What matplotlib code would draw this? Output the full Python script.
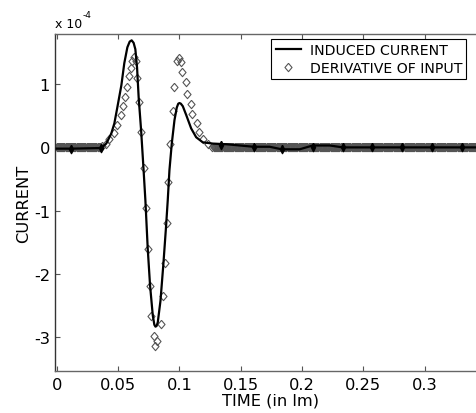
import numpy as np
import matplotlib
matplotlib.use('Agg')
import matplotlib.pyplot as plt

# Datos (corriente en unidades de 1e-4)
t_induced = [0.0, 0.0118, 0.0361, 0.0404, 0.0445, 0.0470, 0.0494, 0.0527, 0.0551,
             0.0576, 0.0595, 0.0611, 0.0627, 0.0641, 0.0655, 0.0668, 0.0688, 0.0707,
             0.0723, 0.0742, 0.0761, 0.0783, 0.0796, 0.0805, 0.0814, 0.0824, 0.0846,
             0.0870, 0.0892, 0.0905, 0.0919, 0.0938, 0.0960, 0.0979, 0.0991, 0.1001,
             0.1012, 0.1028, 0.1056, 0.1096, 0.1137, 0.1191, 0.1273, 0.1382, 0.1605,
             0.1736, 0.1834, 0.1981, 0.2087, 0.2226, 0.2332, 0.2569, 0.3500]
i_induced = [-0.02, -0.02, -0.01, 0.06, 0.22, 0.38, 0.63, 0.98, 1.33,
             1.58, 1.67, 1.69, 1.65, 1.55, 1.26, 0.79, 0.27, -0.32,
             -0.84, -1.60, -2.18, -2.65, -2.80, -2.83, -2.82, -2.76, -2.42,
             -1.83, -1.23, -0.84, -0.36, 0.06, 0.43, 0.63, 0.69, 0.70,
             0.69, 0.65, 0.51, 0.30, 0.16, 0.08, 0.06, 0.05, 0.01,
             0.01, -0.03, -0.03, 0.03, 0.03, 0.0, 0.0, 0.0]

# puntos negros sobre la linea (zonas planas)
t_dots = [0.0118, 0.0361, 0.1343, 0.1605, 0.1834, 0.2087, 0.2332, 0.2569, 0.2813,
          0.3058, 0.3303]
i_dots = [-0.02, -0.01, 0.03, 0.01, -0.03, 0.0, 0.0, 0.0, 0.0, 0.0, 0.0]

# derivada de la entrada: pulso
t_deriv = [0.0372, 0.0404, 0.0429, 0.0470, 0.0494, 0.0527, 0.0543, 0.0560, 0.0576,
           0.0592, 0.0609, 0.0617, 0.0633, 0.0650, 0.0658, 0.0674, 0.0690, 0.0715,
           0.0731, 0.0748, 0.0761, 0.0770, 0.0797, 0.0805, 0.0815, 0.0851, 0.0865,
           0.0886, 0.0903, 0.0911, 0.0927, 0.0944, 0.0960, 0.0984, 0.1001, 0.1017,
           0.1025, 0.1050, 0.1066, 0.1091, 0.1107, 0.1140, 0.1164, 0.1189, 0.1230]
d_deriv = [0.02, 0.06, 0.13, 0.22, 0.35, 0.51, 0.65, 0.79, 0.95,
           1.12, 1.26, 1.37, 1.42, 1.36, 1.09, 0.71, 0.24, -0.33,
           -0.96, -1.61, -2.19, -2.66, -2.98, -3.13, -3.05, -2.79, -2.34,
           -1.83, -1.20, -0.55, 0.05, 0.57, 0.95, 1.37, 1.41, 1.35,
           1.19, 1.03, 0.85, 0.69, 0.53, 0.38, 0.24, 0.14, 0.06]

# derivada: tramos planos muestreados densamente (valor cero)
t_flat_a = np.arange(0.0, 0.036, 0.0009)
t_flat_b = np.arange(0.1270, 0.352, 0.0009)
d_flat_a = np.zeros_like(t_flat_a)
d_flat_b = np.zeros_like(t_flat_b)

x_ticks = [0, 0.05, 0.1, 0.15, 0.2, 0.25, 0.3]
x_labels = ['0', '0.05', '0.1', '0.15', '0.2', '0.25', '0.3']
y_ticks = [-3, -2, -1, 0, 1]
y_labels = ['-3', '-2', '-1', '0', '1']

W, H = 477, 414
fig = plt.figure(figsize=(W / 100, H / 100), dpi=100, facecolor='white')
ax = fig.add_axes([55.5 / W, (H - 372) / H, (486 - 55.5) / W, (372 - 35) / H])

diamond = [(0, 1), (0.85, 0), (0, -1), (-0.85, 0), (0, 1)]
thin_dia = [(0, 1), (0.5, 0), (0, -1), (-0.5, 0), (0, 1)]
gris = '#555555'

t_all = np.concatenate([t_flat_a, t_deriv, t_flat_b])
d_all = np.concatenate([d_flat_a, d_deriv, d_flat_b])
ax.plot(t_all, d_all, linestyle='none', marker=diamond, markersize=6,
        markerfacecolor='none', markeredgecolor=gris, markeredgewidth=0.8,
        zorder=2, label='DERIVATIVE OF INPUT')

ax.plot(t_induced, i_induced, color='black', linewidth=1.6, zorder=3,
        label='INDUCED CURRENT')
ax.plot(t_dots, i_dots, linestyle='none', marker=thin_dia, markersize=6,
        color='black', zorder=4)

ax.set_xlim(-0.001, 0.35)
ax.set_ylim(-3.53, 1.79)
ax.set_xticks(x_ticks)
ax.set_xticklabels(x_labels)
ax.set_yticks(y_ticks)
ax.set_yticklabels(y_labels)
ax.tick_params(direction='in', length=3.5, width=0.8, colors='#555555',
               labelcolor='black', labelsize=11.7, top=True, right=True, pad=4)
for s in ax.spines.values():
    s.set_color('#666666')
    s.set_linewidth(1.0)
ax.spines['left'].set_color('#333333')

ax.set_xlabel('TIME (in lm)', fontsize=11.7, labelpad=1)
ax.set_ylabel('CURRENT', fontsize=11.7, labelpad=2)

# exponente estilo MATLAB
fig.text(55 / W, 1 - 27.5 / H, 'x 10', fontsize=9, ha='left', va='baseline')
fig.text(82.5 / W, 1 - 18.5 / H, '-4', fontsize=6.5, ha='left', va='baseline')

h, l = ax.get_legend_handles_labels()
leg = fig.legend(h[::-1], l[::-1], loc='upper left',
                 bbox_to_anchor=(271.5 / W, 1 - 40 / H), borderaxespad=0,
                 fontsize=10.2, fancybox=False, framealpha=1, edgecolor='black',
                 handlelength=1.8, handletextpad=0.6, labelspacing=0.25,
                 borderpad=0.3)
leg.get_frame().set_linewidth(0.8)

fig.savefig('out.png', dpi=100, facecolor='white')
